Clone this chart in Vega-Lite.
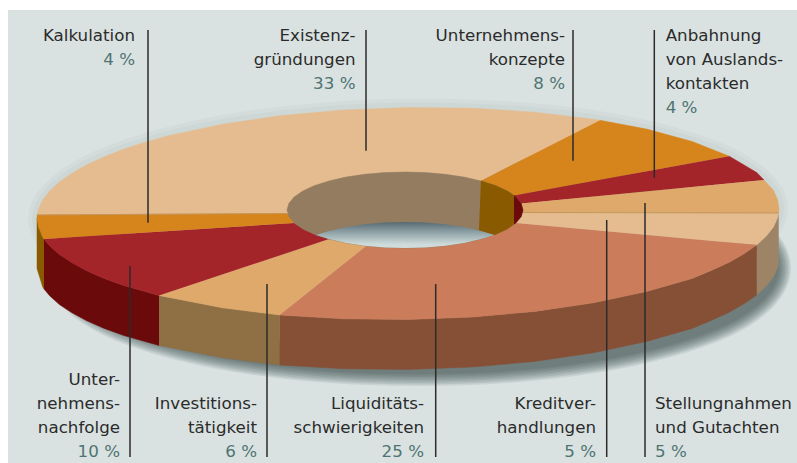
{"$schema":"https://vega.github.io/schema/vega-lite/v6.json","width":797,"height":463,"padding":0,"autosize":"none","background":"white","config":{"view":{"stroke":null}},
"encoding":{"x":{"field":"x","type":"quantitative","scale":{"domain":[0,797],"nice":false,"zero":false},"axis":null},"y":{"field":"y","type":"quantitative","scale":{"domain":[463,0],"nice":false,"zero":false},"axis":null}},
"datasets":{
"shadow":[{"x":770,"y":268},{"x":722.8,"y":316.5},{"x":594,"y":352},{"x":418,"y":365},{"x":242,"y":352},{"x":113.2,"y":316.5},{"x":66,"y":268},{"x":113.2,"y":219.5},{"x":242,"y":184},{"x":418,"y":171},{"x":594,"y":184},{"x":722.8,"y":219.5}],
"halo":[{"x":779,"y":208.5},{"x":729.3,"y":262.2},{"x":593.5,"y":302.8},{"x":408,"y":319.5},{"x":222.5,"y":307.8},{"x":86.7,"y":270.8},{"x":37,"y":218.5},{"x":86.7,"y":164.8},{"x":222.5,"y":124.2},{"x":408,"y":107.5},{"x":593.5,"y":119.2},{"x":729.3,"y":156.2}],
"parts":[
{"p":"Kredit Wand","x":778.7,"y":213},{"p":"Kredit Wand","x":777.5,"y":217.7},{"p":"Kredit Wand","x":773.4,"y":227},{"p":"Kredit Wand","x":766.4,"y":236.1},{"p":"Kredit Wand","x":756.7,"y":245.1},{"p":"Kredit Wand","x":756.7,"y":295.1},{"p":"Kredit Wand","x":766.4,"y":286.1},{"p":"Kredit Wand","x":773.4,"y":277},{"p":"Kredit Wand","x":777.5,"y":267.7},{"p":"Kredit Wand","x":778.7,"y":263},
{"p":"Liquid Wand","x":756.7,"y":245.1},{"p":"Liquid Wand","x":744.1,"y":253.8},{"p":"Liquid Wand","x":729.3,"y":262.2},{"p":"Liquid Wand","x":711.8,"y":270.2},{"p":"Liquid Wand","x":692.2,"y":278.4},{"p":"Liquid Wand","x":646.6,"y":291.5},{"p":"Liquid Wand","x":593.5,"y":302.8},{"p":"Liquid Wand","x":534.9,"y":311.4},{"p":"Liquid Wand","x":472.6,"y":317},{"p":"Liquid Wand","x":408,"y":319.5},{"p":"Liquid Wand","x":343.4,"y":318.8},{"p":"Liquid Wand","x":279.5,"y":315},{"p":"Liquid Wand","x":279.5,"y":365},{"p":"Liquid Wand","x":343.4,"y":368.8},{"p":"Liquid Wand","x":408,"y":369.5},{"p":"Liquid Wand","x":472.6,"y":367},{"p":"Liquid Wand","x":534.9,"y":361.4},{"p":"Liquid Wand","x":593.5,"y":352.8},{"p":"Liquid Wand","x":646.6,"y":341.5},{"p":"Liquid Wand","x":692.2,"y":328.4},{"p":"Liquid Wand","x":711.8,"y":320.2},{"p":"Liquid Wand","x":729.3,"y":312.2},{"p":"Liquid Wand","x":744.1,"y":303.8},{"p":"Liquid Wand","x":756.7,"y":295.1},
{"p":"Invest Wand","x":279.5,"y":315},{"p":"Invest Wand","x":222.5,"y":307.8},{"p":"Invest Wand","x":159,"y":295.5},{"p":"Invest Wand","x":159,"y":345.5},{"p":"Invest Wand","x":222.5,"y":357.8},{"p":"Invest Wand","x":279.5,"y":365},
{"p":"Nachfolge Wand","x":159,"y":295.5},{"p":"Nachfolge Wand","x":123.8,"y":285.5},{"p":"Nachfolge Wand","x":104.2,"y":278.4},{"p":"Nachfolge Wand","x":86.7,"y":270.8},{"p":"Nachfolge Wand","x":71.9,"y":262.8},{"p":"Nachfolge Wand","x":59.3,"y":254.5},{"p":"Nachfolge Wand","x":49.6,"y":245.7},{"p":"Nachfolge Wand","x":44,"y":239},{"p":"Nachfolge Wand","x":44,"y":289},{"p":"Nachfolge Wand","x":49.6,"y":295.7},{"p":"Nachfolge Wand","x":59.3,"y":304.5},{"p":"Nachfolge Wand","x":71.9,"y":312.8},{"p":"Nachfolge Wand","x":86.7,"y":320.8},{"p":"Nachfolge Wand","x":104.2,"y":328.4},{"p":"Nachfolge Wand","x":123.8,"y":335.5},{"p":"Nachfolge Wand","x":159,"y":345.5},
{"p":"Kalkulation Wand","x":44,"y":239},{"p":"Kalkulation Wand","x":42.6,"y":236.8},{"p":"Kalkulation Wand","x":37,"y":218.5},{"p":"Kalkulation Wand","x":37,"y":268.5},{"p":"Kalkulation Wand","x":42.6,"y":286.8},{"p":"Kalkulation Wand","x":44,"y":289},
{"p":"Existenz","x":37,"y":215},{"p":"Existenz","x":38.5,"y":209.3},{"p":"Existenz","x":42.6,"y":200},{"p":"Existenz","x":49.6,"y":190.9},{"p":"Existenz","x":59.3,"y":181.9},{"p":"Existenz","x":71.9,"y":173.2},{"p":"Existenz","x":86.7,"y":164.8},{"p":"Existenz","x":104.2,"y":156.8},{"p":"Existenz","x":123.8,"y":149.1},{"p":"Existenz","x":145.7,"y":142.1},{"p":"Existenz","x":169.4,"y":135.5},{"p":"Existenz","x":222.5,"y":124.2},{"p":"Existenz","x":281.1,"y":115.6},{"p":"Existenz","x":343.4,"y":110},{"p":"Existenz","x":408,"y":107.5},{"p":"Existenz","x":472.6,"y":108.2},{"p":"Existenz","x":534.9,"y":112.2},{"p":"Existenz","x":593.5,"y":119.2},{"p":"Existenz","x":600,"y":120.3},{"p":"Existenz","x":480.9,"y":180.9},{"p":"Existenz","x":405,"y":172},{"p":"Existenz","x":287,"y":210},{"p":"Existenz","x":287.5,"y":213.5},
{"p":"Konzepte","x":600,"y":120.3},{"p":"Konzepte","x":646.6,"y":129.1},{"p":"Konzepte","x":692.2,"y":141.5},{"p":"Konzepte","x":729.3,"y":156.2},{"p":"Konzepte","x":514,"y":195.5},{"p":"Konzepte","x":480.9,"y":180.9},
{"p":"Ausland","x":729.3,"y":156.2},{"p":"Ausland","x":756.7,"y":172.5},{"p":"Ausland","x":764,"y":180},{"p":"Ausland","x":521.2,"y":203.4},{"p":"Ausland","x":514,"y":195.5},
{"p":"Stellung","x":764,"y":180},{"p":"Stellung","x":773.4,"y":190.2},{"p":"Stellung","x":777.5,"y":199.3},{"p":"Stellung","x":779,"y":208.5},{"p":"Stellung","x":778.7,"y":213},{"p":"Stellung","x":523,"y":212},{"p":"Stellung","x":521.2,"y":203.4},
{"p":"Kredit","x":778.7,"y":213},{"p":"Kredit","x":777.5,"y":217.7},{"p":"Kredit","x":773.4,"y":227},{"p":"Kredit","x":766.4,"y":236.1},{"p":"Kredit","x":756.7,"y":245.1},{"p":"Kredit","x":515.9,"y":223},{"p":"Kredit","x":523,"y":212},
{"p":"Liquid","x":756.7,"y":245.1},{"p":"Liquid","x":744.1,"y":253.8},{"p":"Liquid","x":729.3,"y":262.2},{"p":"Liquid","x":711.8,"y":270.2},{"p":"Liquid","x":692.2,"y":278.4},{"p":"Liquid","x":646.6,"y":291.5},{"p":"Liquid","x":593.5,"y":302.8},{"p":"Liquid","x":534.9,"y":311.4},{"p":"Liquid","x":472.6,"y":317},{"p":"Liquid","x":408,"y":319.5},{"p":"Liquid","x":343.4,"y":318.8},{"p":"Liquid","x":279.5,"y":315},{"p":"Liquid","x":366,"y":246},{"p":"Liquid","x":405,"y":248},{"p":"Liquid","x":515.9,"y":223},
{"p":"Invest","x":279.5,"y":315},{"p":"Invest","x":222.5,"y":307.8},{"p":"Invest","x":159,"y":295.5},{"p":"Invest","x":329.1,"y":239.1},{"p":"Invest","x":366,"y":246},
{"p":"Nachfolge","x":159,"y":295.5},{"p":"Nachfolge","x":123.8,"y":285.5},{"p":"Nachfolge","x":104.2,"y":278.4},{"p":"Nachfolge","x":86.7,"y":270.8},{"p":"Nachfolge","x":71.9,"y":262.8},{"p":"Nachfolge","x":59.3,"y":254.5},{"p":"Nachfolge","x":49.6,"y":245.7},{"p":"Nachfolge","x":44,"y":239},{"p":"Nachfolge","x":294.1,"y":223},{"p":"Nachfolge","x":329.1,"y":239.1},
{"p":"Kalkulation","x":44,"y":239},{"p":"Kalkulation","x":42.6,"y":236.8},{"p":"Kalkulation","x":38.5,"y":227},{"p":"Kalkulation","x":37,"y":218.5},{"p":"Kalkulation","x":37,"y":215},{"p":"Kalkulation","x":287.5,"y":213.5},{"p":"Kalkulation","x":294.1,"y":223},
{"p":"Loch","x":523,"y":210},{"p":"Loch","x":521.2,"y":216.6},{"p":"Loch","x":515.9,"y":223},{"p":"Loch","x":507.2,"y":229},{"p":"Loch","x":495.4,"y":234.4},{"p":"Loch","x":480.9,"y":239.1},{"p":"Loch","x":464,"y":242.9},{"p":"Loch","x":445.4,"y":245.7},{"p":"Loch","x":425.5,"y":247.4},{"p":"Loch","x":405,"y":248},{"p":"Loch","x":384.5,"y":247.4},{"p":"Loch","x":364.6,"y":245.7},{"p":"Loch","x":346,"y":242.9},{"p":"Loch","x":329.1,"y":239.1},{"p":"Loch","x":314.6,"y":234.4},{"p":"Loch","x":302.8,"y":229},{"p":"Loch","x":294.1,"y":223},{"p":"Loch","x":288.8,"y":216.6},{"p":"Loch","x":287,"y":210},{"p":"Loch","x":288.8,"y":203.4},{"p":"Loch","x":294.1,"y":197},{"p":"Loch","x":302.8,"y":191},{"p":"Loch","x":314.6,"y":185.6},{"p":"Loch","x":329.1,"y":180.9},{"p":"Loch","x":346,"y":177.1},{"p":"Loch","x":364.6,"y":174.3},{"p":"Loch","x":384.5,"y":172.6},{"p":"Loch","x":405,"y":172},{"p":"Loch","x":425.5,"y":172.6},{"p":"Loch","x":445.4,"y":174.3},{"p":"Loch","x":464,"y":177.1},{"p":"Loch","x":480.9,"y":180.9},{"p":"Loch","x":495.4,"y":185.6},{"p":"Loch","x":507.2,"y":191},{"p":"Loch","x":515.9,"y":197},{"p":"Loch","x":521.2,"y":203.4},
{"p":"Konzepte innen","x":480.9,"y":180.9},{"p":"Konzepte innen","x":495.4,"y":185.6},{"p":"Konzepte innen","x":507.2,"y":191},{"p":"Konzepte innen","x":514,"y":195.5},{"p":"Konzepte innen","x":514,"y":224},{"p":"Konzepte innen","x":507.2,"y":229},{"p":"Konzepte innen","x":495.4,"y":234.4},{"p":"Konzepte innen","x":494.5,"y":235},{"p":"Konzepte innen","x":479,"y":230.5},
{"p":"Ausland innen","x":514,"y":195.5},{"p":"Ausland innen","x":515.9,"y":197},{"p":"Ausland innen","x":521.2,"y":203.4},{"p":"Ausland innen","x":523,"y":210},{"p":"Ausland innen","x":521.2,"y":216.6},{"p":"Ausland innen","x":515.9,"y":223},{"p":"Ausland innen","x":514,"y":224}
],
"floor":[{"x":316,"y":235},{"x":329.1,"y":230.9},{"x":346,"y":227.1},{"x":364.6,"y":224.3},{"x":384.5,"y":222.6},{"x":405,"y":222},{"x":425.5,"y":222.6},{"x":445.4,"y":224.3},{"x":464,"y":227.1},{"x":480.9,"y":230.9},{"x":494.5,"y":235},{"x":480.9,"y":239.1},{"x":464,"y":242.9},{"x":445.4,"y":245.7},{"x":425.5,"y":247.4},{"x":405,"y":248},{"x":384.5,"y":247.4},{"x":364.6,"y":245.7},{"x":346,"y":242.9},{"x":329.1,"y":239.1}],
"seams":[{"s":"a","x":37,"y":215},{"s":"a","x":287.5,"y":213.5},{"s":"b","x":523,"y":212.5},{"s":"b","x":778.7,"y":213}],
"rules":[{"x":148,"y":30,"y2":222.7},{"x":366,"y":30,"y2":150.7},{"x":573,"y":30,"y2":160.7},{"x":654.3,"y":30,"y2":177.7},{"x":130,"y":266,"y2":457},{"x":267,"y":284,"y2":457},{"x":435.7,"y":284,"y2":457},{"x":606.7,"y":220,"y2":457},{"x":645,"y":203,"y2":457}],
"right":[
{"t":"Kalkulation","k":"Thema","x":135,"y":41},{"t":"4 %","k":"Anteil","x":135,"y":65},
{"t":"Existenz-","k":"Thema","x":355.5,"y":41},{"t":"gründungen","k":"Thema","x":355.5,"y":65},{"t":"33 %","k":"Anteil","x":355.5,"y":89},
{"t":"Unternehmens-","k":"Thema","x":565,"y":41},{"t":"konzepte","k":"Thema","x":565,"y":65},{"t":"8 %","k":"Anteil","x":565,"y":89},
{"t":"Unter-","k":"Thema","x":120,"y":385},{"t":"nehmens-","k":"Thema","x":120,"y":409},{"t":"nachfolge","k":"Thema","x":120,"y":433},{"t":"10 %","k":"Anteil","x":120,"y":457},
{"t":"Investitions-","k":"Thema","x":257,"y":409},{"t":"tätigkeit","k":"Thema","x":257,"y":433},{"t":"6 %","k":"Anteil","x":257,"y":457},
{"t":"Liquiditäts-","k":"Thema","x":424,"y":409},{"t":"schwierigkeiten","k":"Thema","x":424,"y":433},{"t":"25 %","k":"Anteil","x":424,"y":457},
{"t":"Kreditver-","k":"Thema","x":596,"y":409},{"t":"handlungen","k":"Thema","x":596,"y":433},{"t":"5 %","k":"Anteil","x":596,"y":457}],
"left":[
{"t":"Anbahnung","k":"Thema","x":665.7,"y":41},{"t":"von Auslands-","k":"Thema","x":665.7,"y":65},{"t":"kontakten","k":"Thema","x":665.7,"y":89},{"t":"4 %","k":"Anteil","x":665.7,"y":113},
{"t":"Stellungnahmen","k":"Thema","x":655,"y":409},{"t":"und Gutachten","k":"Thema","x":655,"y":433},{"t":"5 %","k":"Anteil","x":655,"y":457}]
},
"layer":[
{"data":{"values":[{"x":8,"x2":797,"y":10,"y2":463}]},"mark":{"type":"rect","fill":"#d9e2e1"},"encoding":{"x2":{"field":"x2"},"y2":{"field":"y2"}}},
{"data":{"name":"halo"},"transform":[{"window":[{"op":"row_number","as":"i"}]}],"mark":{"type":"line","interpolate":"cardinal-closed","stroke":"#2f4045","strokeOpacity":0.03,"strokeWidth":18},"encoding":{"order":{"field":"i","type":"quantitative"}}},
{"data":{"name":"halo"},"transform":[{"window":[{"op":"row_number","as":"i"}]}],"mark":{"type":"line","interpolate":"cardinal-closed","stroke":"#2f4045","strokeOpacity":0.03,"strokeWidth":10},"encoding":{"order":{"field":"i","type":"quantitative"}}},
{"data":{"name":"shadow"},"transform":[{"window":[{"op":"row_number","as":"i"}]}],"mark":{"type":"line","interpolate":"cardinal-closed","stroke":"#2f4045","strokeOpacity":0.1,"strokeWidth":42},"encoding":{"order":{"field":"i","type":"quantitative"}}},
{"data":{"name":"shadow"},"transform":[{"window":[{"op":"row_number","as":"i"}]}],"mark":{"type":"line","interpolate":"cardinal-closed","stroke":"#2f4045","strokeOpacity":0.1,"strokeWidth":39},"encoding":{"order":{"field":"i","type":"quantitative"}}},
{"data":{"name":"shadow"},"transform":[{"window":[{"op":"row_number","as":"i"}]}],"mark":{"type":"line","interpolate":"cardinal-closed","stroke":"#2f4045","strokeOpacity":0.1,"strokeWidth":36},"encoding":{"order":{"field":"i","type":"quantitative"}}},
{"data":{"name":"shadow"},"transform":[{"window":[{"op":"row_number","as":"i"}]}],"mark":{"type":"line","interpolate":"cardinal-closed","stroke":"#2f4045","strokeOpacity":0.1,"strokeWidth":33},"encoding":{"order":{"field":"i","type":"quantitative"}}},
{"data":{"name":"shadow"},"transform":[{"window":[{"op":"row_number","as":"i"}]}],"mark":{"type":"line","interpolate":"cardinal-closed","stroke":"#2f4045","strokeOpacity":0.1,"strokeWidth":30},"encoding":{"order":{"field":"i","type":"quantitative"}}},
{"data":{"name":"shadow"},"transform":[{"window":[{"op":"row_number","as":"i"}]}],"mark":{"type":"line","interpolate":"cardinal-closed","stroke":"#2f4045","strokeOpacity":0.1,"strokeWidth":27},"encoding":{"order":{"field":"i","type":"quantitative"}}},
{"data":{"name":"shadow"},"transform":[{"window":[{"op":"row_number","as":"i"}]}],"mark":{"type":"line","interpolate":"cardinal-closed","stroke":"#2f4045","strokeOpacity":0.1,"strokeWidth":24},"encoding":{"order":{"field":"i","type":"quantitative"}}},
{"data":{"name":"shadow"},"transform":[{"window":[{"op":"row_number","as":"i"}]}],"mark":{"type":"line","interpolate":"cardinal-closed","stroke":"#2f4045","strokeOpacity":0.1,"strokeWidth":21},"encoding":{"order":{"field":"i","type":"quantitative"}}},
{"data":{"name":"shadow"},"transform":[{"window":[{"op":"row_number","as":"i"}]}],"mark":{"type":"line","interpolate":"cardinal-closed","stroke":"#2f4045","strokeOpacity":0.1,"strokeWidth":18},"encoding":{"order":{"field":"i","type":"quantitative"}}},
{"data":{"name":"parts"},"transform":[{"window":[{"op":"row_number","as":"i"}]}],"mark":{"type":"line","filled":true,"strokeWidth":0.5},"encoding":{"order":{"field":"i","type":"quantitative"},
"fill":{"field":"p","type":"nominal","legend":null,"scale":{"domain":["Kredit Wand","Liquid Wand","Invest Wand","Nachfolge Wand","Kalkulation Wand","Existenz","Konzepte","Ausland","Stellung","Kredit","Liquid","Invest","Nachfolge","Kalkulation","Loch","Konzepte innen","Ausland innen"],"range":["#9d8467","#865036","#8f6f44","#6b0a0b","#8a5a00","#e4bc90","#d6851c","#a32429","#dea96a","#e4bc90","#cb7c5a","#dea96a","#a32429","#d6851c","#937c60","#8a5a00","#6b0a0b"]}},
"stroke":{"field":"p","type":"nominal","legend":null,"scale":{"domain":["Kredit Wand","Liquid Wand","Invest Wand","Nachfolge Wand","Kalkulation Wand","Existenz","Konzepte","Ausland","Stellung","Kredit","Liquid","Invest","Nachfolge","Kalkulation","Loch","Konzepte innen","Ausland innen"],"range":["#9d8467","#865036","#8f6f44","#6b0a0b","#8a5a00","#e4bc90","#d6851c","#a32429","#dea96a","#e4bc90","#cb7c5a","#dea96a","#a32429","#d6851c","#937c60","#8a5a00","#6b0a0b"]}}}},
{"data":{"name":"seams"},"mark":{"type":"line","stroke":"#c4965c","strokeWidth":1},"encoding":{"detail":{"field":"s"}}},
{"data":{"name":"floor"},"transform":[{"window":[{"op":"row_number","as":"i"}]}],"mark":{"type":"line","filled":true,"fill":{"gradient":"linear","x1":0,"y1":0,"x2":0,"y2":1,"stops":[{"offset":0,"color":"#566a72"},{"offset":0.4,"color":"#8fa3a7"},{"offset":0.85,"color":"#cddad9"},{"offset":1,"color":"#d2dedd"}]}},"encoding":{"order":{"field":"i","type":"quantitative"}}},
{"data":{"name":"rules"},"mark":{"type":"rule","stroke":"#2b2b2b","strokeWidth":1.5},"encoding":{"y2":{"field":"y2"}}},
{"data":{"name":"right"},"mark":{"type":"text","align":"right","baseline":"alphabetic","font":"DejaVu Sans","fontSize":16.7},"encoding":{"text":{"field":"t"},"color":{"field":"k","type":"nominal","legend":null,"scale":{"domain":["Thema","Anteil"],"range":["#2b2b2b","#4f7472"]}}}},
{"data":{"name":"left"},"mark":{"type":"text","align":"left","baseline":"alphabetic","font":"DejaVu Sans","fontSize":16.7},"encoding":{"text":{"field":"t"},"color":{"field":"k","type":"nominal","legend":null,"scale":{"domain":["Thema","Anteil"],"range":["#2b2b2b","#4f7472"]}}}}
]}
